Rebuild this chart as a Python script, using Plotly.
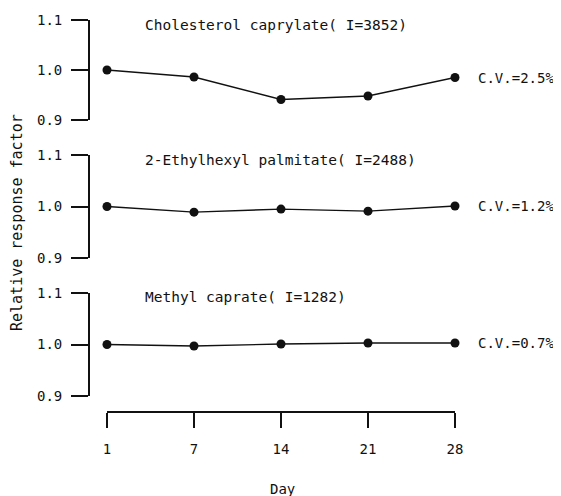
import plotly.graph_objects as go

days = ["1", "7", "14", "21", "28"]
chol = [1.000, 0.986, 0.941, 0.948, 0.985]
ethyl = [1.000, 0.989, 0.995, 0.991, 1.001]
methyl = [1.000, 0.997, 1.001, 1.003, 1.003]
names = ["Cholesterol caprylate( I=3852)", "2-Ethylhexyl palmitate( I=2488)", "Methyl caprate( I=1282)"]
cvs = ["C.V.=2.5%", "C.V.=1.2%", "C.V.=0.7%"]
yticks = [0.9, 1.0, 1.1]
series = [chol, ethyl, methyl]

OFF = 8  # page body margin
W, H = 561 - OFF, 496 - OFF
FONT = "DejaVu Sans Mono"
INK = "#111111"

def fx(px):
    return (px - OFF) / W

def fy(py):
    return 1 - (py - OFF) / H

# panel pixel extents (top of 1.1, bottom of 0.9)
panels = [(20, 120), (155, 258), (293, 396)]
xdom = [fx(107), fx(455)]
xpos = list(range(len(days)))

fig = go.Figure()
layout = dict(
    template="none",
    width=W, height=H, autosize=False,
    margin=dict(l=0, r=0, t=0, b=0, pad=0),
    paper_bgcolor="white", plot_bgcolor="white",
    showlegend=False,
    font=dict(family=FONT, size=14, color=INK),
)

for i, (vals, (top, bot)) in enumerate(zip(series, panels)):
    n = "" if i == 0 else str(i + 1)
    fig.add_trace(go.Scatter(
        x=xpos, y=vals, mode="lines+markers",
        xaxis="x" + n, yaxis="y" + n,
        line=dict(color=INK, width=1.4),
        marker=dict(color=INK, size=9),
        cliponaxis=False,
    ))
    xa = dict(domain=xdom, range=[0, len(days) - 1], anchor="y" + n,
              automargin=False,
              showgrid=False, zeroline=False, showline=False,
              showticklabels=False, ticks="")
    if i == 2:
        xa.update(anchor="free", position=fy(412), showline=True, linecolor=INK,
                  linewidth=1.8, ticks="outside", ticklen=15, tickwidth=1.8,
                  tickcolor=INK, showticklabels=True, tickvals=xpos,
                  ticktext=days, tickfont=dict(family=FONT, size=14, color=INK),
                  ticklabelstandoff=9)
    layout["xaxis" + n] = xa
    layout["yaxis" + n] = dict(
        domain=[fy(bot), fy(top)], range=[0.9, 1.1],
        anchor="free", position=fx(89), automargin=False,
        showgrid=False, zeroline=False, showline=True, linecolor=INK, linewidth=1.8,
        ticks="outside", ticklen=17, tickwidth=1.8, tickcolor=INK,
        tickvals=yticks, ticktext=["%.1f" % v for v in yticks],
        tickfont=dict(family=FONT, size=14, color=INK),
        ticklabelstandoff=6,
    )

annotations = []
title_y = [25, 160, 297]
for name, ty in zip(names, title_y):
    annotations.append(dict(text=name, x=fx(143), y=fy(ty), xref="paper", yref="paper",
                            xanchor="left", yanchor="middle", showarrow=False,
                            font=dict(family=FONT, size=14.5, color=INK)))
for i, cv in enumerate(cvs):
    n = "" if i == 0 else str(i + 1)
    annotations.append(dict(text=cv, x=len(days) - 1, y=series[i][-1], xref="x" + n, yref="y" + n,
                            xanchor="left", yanchor="middle", xshift=21, showarrow=False,
                            font=dict(family=FONT, size=14, color=INK)))
annotations.append(dict(text="Relative response factor", x=fx(17), y=fy(223), xref="paper", yref="paper",
                        xanchor="center", yanchor="middle", textangle=-90, showarrow=False,
                        font=dict(family=FONT, size=15, color=INK)))
annotations.append(dict(text="Day", x=fx(282), y=fy(489), xref="paper", yref="paper",
                        xanchor="center", yanchor="middle", showarrow=False,
                        font=dict(family=FONT, size=14, color=INK)))
layout["annotations"] = annotations

fig.update_layout(**layout)
fig.write_html("out.html")
